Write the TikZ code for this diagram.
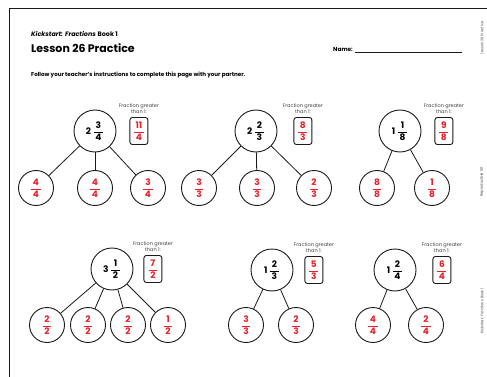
\documentclass[tikz,border=0pt]{standalone}
\usepackage{amsmath}
\usepackage{fontspec}
\setmainfont{Poppins}
\usetikzlibrary{positioning}
\definecolor{ink}{HTML}{1A1A1A}
\definecolor{ansred}{HTML}{E8202A}
\definecolor{grey}{HTML}{444444}
\newcommand{\fr}[2]{$\dfrac{\,\textbf{#1}\,}{\,\textbf{#2}\,}$}
\newcommand{\mixed}[3]{$\textbf{#1}\,\dfrac{\,\textbf{#2}\,}{\,\textbf{#3}\,}$}
\tikzset{
  whole/.style={draw=ink,circle,line width=0.9pt,minimum size=42pt,inner sep=0pt,font=\fontsize{9}{10}\selectfont},
  part/.style={draw=ink,circle,line width=0.9pt,minimum size=35pt,inner sep=0pt,text=ansred,font=\fontsize{9}{10}\selectfont},
  answer/.style={draw=ink,rounded corners=2.5pt,line width=0.9pt,minimum width=18pt,minimum height=27pt,inner sep=0pt,text=ansred,font=\fontsize{9}{10}\selectfont},
  prompt/.style={text=grey,font=\fontsize{5}{6}\selectfont,align=center,inner sep=0pt},
  link/.style={draw=ink,line width=0.8pt},
  side/.style={rotate=90,text=grey,font=\fontsize{3.6}{4}\selectfont,inner sep=0pt}
}
\begin{document}
\begin{tikzpicture}[x=1pt,y=-1pt]
  \useasboundingbox[fill=white] (0,0) rectangle (487,377);
  % page frame
  \draw[ink,line width=0.9pt] (487,8) -- (9,8) -- (9,377);
  % header
  \node[anchor=base west,inner sep=0pt,font=\fontsize{6.4}{7}\selectfont] (book) at (31,37) {\textbf{\textit{Kickstart: Fractions}} \textbf{Book 1}};
  \node[anchor=base west,inner sep=0pt,font=\fontsize{11}{12}\selectfont\bfseries] (title) at (31,53) {Lesson 26 Practice};
  \node[anchor=base west,inner sep=0pt,font=\fontsize{5.8}{6}\selectfont\bfseries] (name) at (333,52) {Name:};
  \coordinate (nameend) at (462,52);
  \draw[ink,line width=0.7pt] ([xshift=2pt]name.base east) -- (nameend);
  \node[anchor=base west,inner sep=0pt,font=\fontsize{5.6}{6}\selectfont\bfseries] (instr) at (31,77) {Follow your teacher's instructions to complete this page with your partner.};
  \node[side] (s1) at (482,38) {Lesson 26 Practice};
  \node[side] (s2) at (482,182) {Reproducible 50};
  \node[side] (s3) at (482,311) {Kickstart: Fractions Book 1};

  % top left: 2 3/4
  \node[whole] (g1) at (95,131) {\mixed{2}{3}{4}};
  \node[answer, right=13pt of g1] (g1box) {\fr{11}{4}};
  \node[prompt, above=3pt of g1box] (g1lbl) {Fraction greater\\than 1:};
  \node[part] (g1a) at (36,188) {\fr{4}{4}};
  \node[part] (g1b) at (95,188) {\fr{4}{4}};
  \node[part] (g1c) at (148,188) {\fr{3}{4}};
  \draw[link] (g1) -- (g1a); \draw[link] (g1) -- (g1b); \draw[link] (g1) -- (g1c);

  % top middle: 2 2/3
  \node[whole] (g2) at (256,131) {\mixed{2}{2}{3}};
  \node[answer, right=16pt of g2] (g2box) {\fr{8}{3}};
  \node[prompt, above=3pt of g2box] (g2lbl) {Fraction greater\\than 1:};
  \node[part] (g2a) at (199,188) {\fr{3}{3}};
  \node[part] (g2b) at (257,188) {\fr{3}{3}};
  \node[part] (g2c) at (314,188) {\fr{2}{3}};
  \draw[link] (g2) -- (g2a); \draw[link] (g2) -- (g2b); \draw[link] (g2) -- (g2c);

  % top right: 1 1/8
  \node[whole] (g3) at (400,131) {\mixed{1}{1}{8}};
  \node[answer, right=13pt of g3] (g3box) {\fr{9}{8}};
  \node[prompt, above=3pt of g3box] (g3lbl) {Fraction greater\\than 1:};
  \node[part] (g3a) at (377,188) {\fr{8}{8}};
  \node[part] (g3b) at (432,188) {\fr{1}{8}};
  \draw[link] (g3) -- (g3a); \draw[link] (g3) -- (g3b);

  % bottom left: 3 1/2
  \node[whole] (g4) at (112,269) {\mixed{3}{1}{2}};
  \node[answer, right=10pt of g4] (g4box) {\fr{7}{2}};
  \node[prompt, above=3pt of g4box] (g4lbl) {Fraction greater\\than 1:};
  \node[part] (g4a) at (47,325) {\fr{2}{2}};
  \node[part] (g4b) at (88,325) {\fr{2}{2}};
  \node[part] (g4c) at (128,325) {\fr{2}{2}};
  \node[part] (g4d) at (168,325) {\fr{1}{2}};
  \draw[link] (g4) -- (g4a); \draw[link] (g4) -- (g4b);
  \draw[link] (g4) -- (g4c); \draw[link] (g4) -- (g4d);

  % bottom middle: 1 2/3
  \node[whole] (g5) at (272,270) {\mixed{1}{2}{3}};
  \node[answer, right=11pt of g5] (g5box) {\fr{5}{3}};
  \node[prompt, above=3pt of g5box] (g5lbl) {Fraction greater\\than 1:};
  \node[part] (g5a) at (246,325) {\fr{3}{3}};
  \node[part] (g5b) at (296,325) {\fr{2}{3}};
  \draw[link] (g5) -- (g5a); \draw[link] (g5) -- (g5b);

  % bottom right: 1 2/4
  \node[whole] (g6) at (395,270) {\mixed{1}{2}{4}};
  \node[answer, right=16pt of g6] (g6box) {\fr{6}{4}};
  \node[prompt, above=3pt of g6box] (g6lbl) {Fraction greater\\than 1:};
  \node[part] (g6a) at (373,325) {\fr{4}{4}};
  \node[part] (g6b) at (426,325) {\fr{2}{4}};
  \draw[link] (g6) -- (g6a); \draw[link] (g6) -- (g6b);
\end{tikzpicture}
\end{document}
